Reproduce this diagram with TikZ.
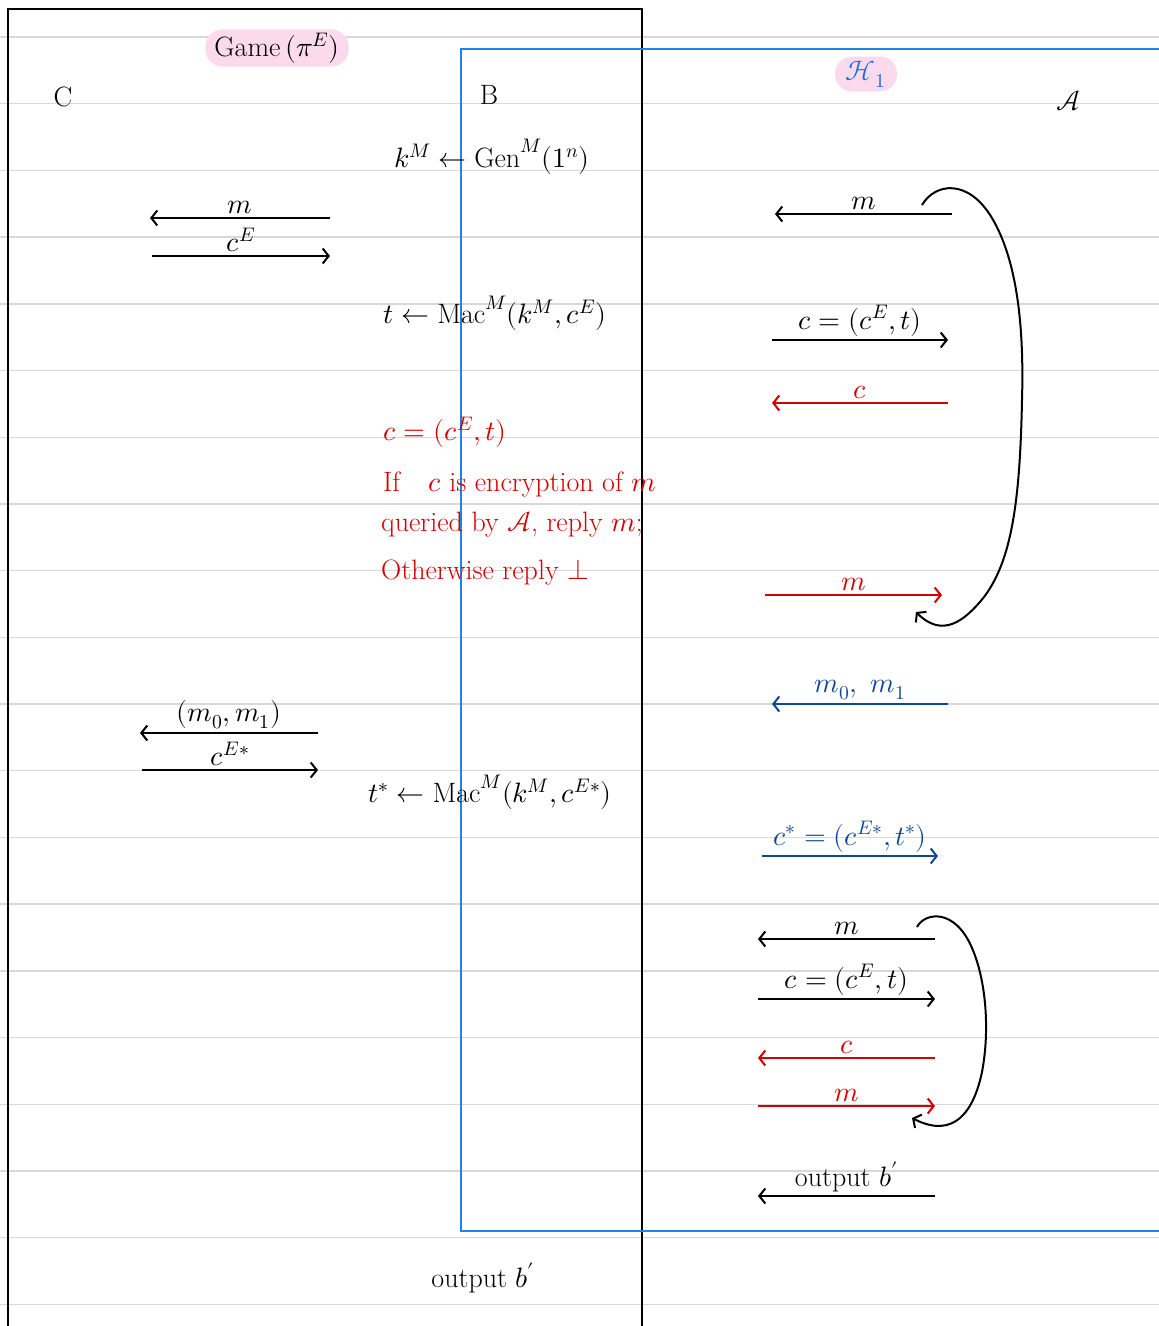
\documentclass[tikz,border=0pt]{standalone}
\usepackage{unicode-math}
\setmathfont{Latin Modern Math}
\usetikzlibrary{arrows.meta,positioning}
\definecolor{rulegray}{RGB}{216,216,216}
\definecolor{notered}{RGB}{212,0,0}
\definecolor{noteblue}{RGB}{12,72,150}
\definecolor{boxblue}{RGB}{28,132,232}
\definecolor{hblue}{RGB}{18,108,235}
\definecolor{hlpink}{RGB}{252,218,238}

\begin{document}
\begin{tikzpicture}[x=1pt,y=-1pt,>={Straight Barb[length=6pt,width=15pt]},
    font=\fontsize{28}{34}\selectfont]
  \tikzset{
    rule/.style={draw=rulegray, line width=1.4pt},
    blackframe/.style={draw=black, line width=2pt},
    blueframe/.style={draw=boxblue, line width=2pt},
    msg/.style={line width=2pt, ->},
    lbl/.style={inner sep=3pt},
    pill/.style={fill=hlpink, rounded corners=17pt, minimum height=35pt, inner xsep=9pt},
    note/.style={anchor=west, text=notered, inner sep=0pt},
    party/.style={inner sep=0pt},
    loop/.style={line width=2pt, ->}
  }
  \useasboundingbox (0,0) rectangle (1159,1326);

  % ruled paper
  \foreach \k in {0,...,19}
    \draw[rule] (0,{37+66.7*\k}) -- (1159,{37+66.7*\k});

  % the two boxes
  \draw[blackframe] (8,1330) -- (8,9) -- (642,9) -- (642,1330);
  \draw[blueframe] (1165,49) -- (461,49) -- (461,1231) -- (1165,1231);

  % titles and parties
  \node[pill] (game) at (277,48) {Game$\,(\pi^{E})$};
  \node[pill, minimum width=62pt, text=hblue] (hyb) at (866,74) {$\mathcal{H}_1$};
  \node[party] (chal) at (63,97) {C};
  \node[party] (red) at (489,95) {B};
  \node[party] (adv) at (1068,101) {$\mathcal{A}$};

  % reduction B
  \node[party] (keygen) at (492,157) {$k^M \leftarrow \mathrm{Gen}^M(1^n)$};
  \node[party] (tag) at (495,313) {$t \leftarrow \mathrm{Mac}^M(k^M, c^E)$};
  \node[note] (dec1) at (383,432) {$c=(c^E, t)$};
  \node[note] (dec2) at (383,485) {If\quad $c$ is encryption of $m$};
  \node[note] (dec3) at (381,525) {queried by $\mathcal{A}$, reply $m$;};
  \node[note] (dec4) at (381,573) {Otherwise reply $\bot$};
  \node[party] (tagst) at (490,792) {$t^{*} \leftarrow \mathrm{Mac}^M(k^M, c^{E*})$};
  \node[party] (outB) at (483,1278) {output $b'$};

  % C <-> B
  \coordinate (q1B) at (330,218); \coordinate (q1C) at (150,218);
  \coordinate (r1C) at (152,256); \coordinate (r1B) at (330,256);
  \draw[msg] (q1B) -- (q1C) node[lbl, midway, above] (q1lbl) {$m$};
  \draw[msg] (r1C) -- (r1B) node[lbl, midway, above] (r1lbl) {$c^E$};
  \coordinate (chB) at (318,733); \coordinate (chC) at (140,733);
  \coordinate (cstC) at (142,770); \coordinate (cstB) at (318,770);
  \draw[msg] (chB) -- (chC) node[lbl, midway, above] (chlbl) {$(m_0, m_1)$};
  \draw[msg] (cstC) -- (cstB) node[lbl, midway, above] (cstlbl) {$c^{E*}$};

  % B <-> A, first round
  \coordinate (q2A) at (952,214); \coordinate (q2B) at (775,214);
  \coordinate (r2B) at (772,340); \coordinate (r2A) at (948,340);
  \coordinate (d2A) at (948,403); \coordinate (d2B) at (772,403);
  \coordinate (a2B) at (765,595); \coordinate (a2A) at (942,595);
  \draw[msg] (q2A) -- (q2B) node[lbl, midway, above] (q2lbl) {$m$};
  \draw[msg] (r2B) -- (r2A) node[lbl, midway, above] (r2lbl) {$c=(c^E, t)$};
  \draw[msg, notered] (d2A) -- (d2B) node[lbl, midway, above] (d2lbl) {$c$};
  \draw[msg, notered] (a2B) -- (a2A) node[lbl, midway, above] (a2lbl) {$m$};
  \coordinate (loop1s) at (922,205); \coordinate (loop1e) at (916,612);
  \draw[loop] (loop1s) .. controls (935,183) and (968,178) .. (992,218)
    .. controls (1018,262) and (1024,330) .. (1022,400)
    .. controls (1020,500) and (1012,560) .. (984,597)
    .. controls (964,622) and (942,638) .. (loop1e);

  % challenge
  \coordinate (chA) at (948,704); \coordinate (chB2) at (772,704);
  \coordinate (cA0) at (762,856); \coordinate (cA1) at (938,856);
  \draw[msg, noteblue] (chA) -- (chB2) node[lbl, midway, above] (chAlbl) {$m_0,\ m_1$};
  \draw[msg, noteblue] (cA0) -- (cA1) node[lbl, midway, above] (cAlbl) {$c^{*}=(c^{E*}, t^{*})$};

  % B <-> A, second round
  \coordinate (q3A) at (935,939); \coordinate (q3B) at (758,939);
  \coordinate (r3B) at (758,999); \coordinate (r3A) at (935,999);
  \coordinate (d3A) at (935,1058); \coordinate (d3B) at (758,1058);
  \coordinate (a3B) at (758,1106); \coordinate (a3A) at (935,1106);
  \draw[msg] (q3A) -- (q3B) node[lbl, midway, above] (q3lbl) {$m$};
  \draw[msg] (r3B) -- (r3A) node[lbl, midway, above] (r3lbl) {$c=(c^E, t)$};
  \draw[msg, notered] (d3A) -- (d3B) node[lbl, midway, above] (d3lbl) {$c$};
  \draw[msg, notered] (a3B) -- (a3A) node[lbl, midway, above] (a3lbl) {$m$};
  \coordinate (loop2s) at (917,927); \coordinate (loop2e) at (912,1118);
  \draw[loop] (loop2s) .. controls (925,912) and (955,908) .. (972,948)
    .. controls (986,980) and (990,1030) .. (982,1072)
    .. controls (974,1110) and (955,1140) .. (loop2e);

  \coordinate (outA) at (935,1196); \coordinate (outB2) at (758,1196);
  \draw[msg] (outA) -- (outB2) node[lbl, midway, above] (outlbl) {output $b'$};
\end{tikzpicture}
\end{document}
